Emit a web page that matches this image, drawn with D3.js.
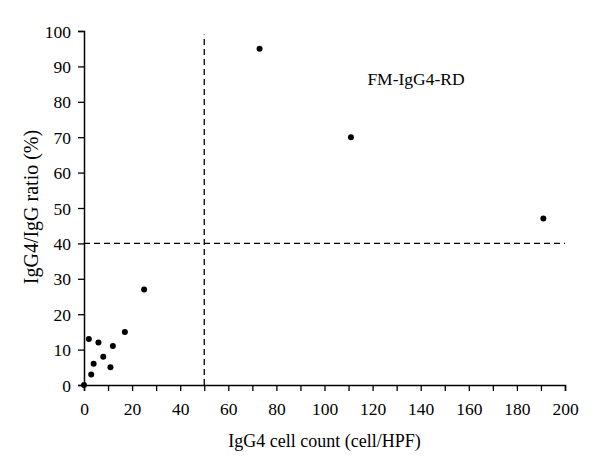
<!DOCTYPE html>
<html>
<head>
<meta charset="utf-8">
<script src="https://cdn.jsdelivr.net/npm/d3@7"></script>
<style>
  body { margin: 0; background: #fff; }
  svg text { font-family: "Liberation Serif", "DejaVu Serif", serif; fill: #000; }
</style>
</head>
<body>
<div id="container"></div>
<script>
var width = 600,
    height = 470;

// IgG4 cell count (cell/HPF)
var cellCount = [0, 2, 3, 4, 6, 8, 11, 12, 17, 25, 73, 111, 191];
// IgG4/IgG ratio (%)
var ratio = [0, 13, 3, 6, 12, 8, 5, 11, 15, 27, 95, 70, 47];

var xTicks = [0, 20, 40, 60, 80, 100, 120, 140, 160, 180, 200];
var xMinor = d3.range(0, 201, 10);
var yTicks = [0, 10, 20, 30, 40, 50, 60, 70, 80, 90, 100];
var cutX = 50, cutY = 40;

var margin = {top: 31, right: 35, bottom: 85, left: 84};

var svg = d3.select("#container")
    .append("svg")
    .attr("width", width)
    .attr("height", height);

var x = d3.scaleLinear().domain([0, 200]).range([margin.left, width - margin.right]);
var y = d3.scaleLinear().domain([0, 100]).range([height - margin.bottom, margin.top]);

// cutoff lines
svg.append("line")
    .attr("x1", x(cutX)).attr("x2", x(cutX))
    .attr("y1", y(0)).attr("y2", y(99))
    .attr("stroke", "#000").attr("stroke-width", 1.3)
    .attr("stroke-dasharray", "6,4");

svg.append("line")
    .attr("x1", x(0)).attr("x2", x(200))
    .attr("y1", y(cutY)).attr("y2", y(cutY))
    .attr("stroke", "#000").attr("stroke-width", 1.3)
    .attr("stroke-dasharray", "6,4");

// x axis
var xAxis = svg.append("g")
    .attr("transform", "translate(0," + y(0) + ")")
    .call(d3.axisBottom(x).tickValues(xMinor).tickSize(6)
        .tickFormat(function (d) { return xTicks.indexOf(d) >= 0 ? d : ""; }));

// y axis
var yAxis = svg.append("g")
    .attr("transform", "translate(" + x(0) + ",0)")
    .call(d3.axisLeft(y).tickValues(yTicks).tickSize(6));

[xAxis, yAxis].forEach(function (g) {
    g.attr("font-family", "Liberation Serif").attr("font-size", 17.5);
    g.select(".domain").attr("stroke", "#000").attr("stroke-width", 1.5);
    g.selectAll(".tick line").attr("stroke", "#000").attr("stroke-width", 1.3);
    g.selectAll(".tick text").attr("fill", "#000");
});
xAxis.selectAll(".tick text").attr("y", 16).attr("dy", "0.8em");
yAxis.selectAll(".tick text").attr("x", -13).attr("dy", "0.35em");

// points
svg.append("g")
    .selectAll("circle")
    .data(cellCount)
    .enter()
    .append("circle")
    .attr("cx", function (d) { return x(d); })
    .attr("cy", function (d, i) { return y(ratio[i]); })
    .attr("r", 3)
    .attr("fill", "#000");

// labels
svg.append("text")
    .attr("x", 416).attr("y", 85)
    .attr("text-anchor", "middle")
    .style("font-size", "17.5px")
    .text("FM-IgG4-RD");

svg.append("text")
    .attr("x", (x(0) + x(200)) / 2).attr("y", 447)
    .attr("text-anchor", "middle")
    .style("font-size", "18px")
    .text("IgG4 cell count (cell/HPF)");

svg.append("text")
    .attr("transform", "translate(38,207) rotate(-90)")
    .attr("text-anchor", "middle")
    .style("font-size", "20px")
    .text("IgG4/IgG ratio (%)");
</script>
</body>
</html>
